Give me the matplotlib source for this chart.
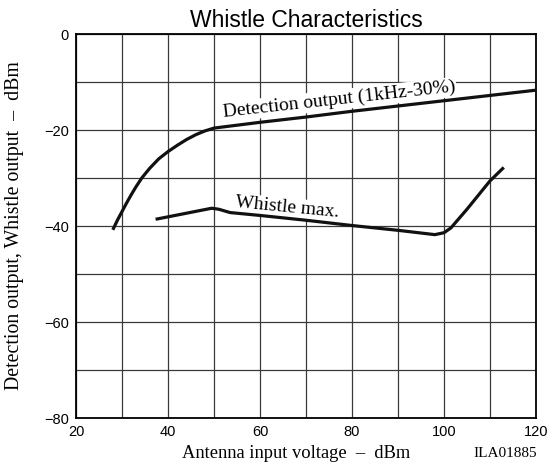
import matplotlib
matplotlib.use("Agg")
import matplotlib.pyplot as plt

# Detection output (1kHz-30%)
det_x = [28, 29, 30, 31, 32, 33, 34.3, 36, 38, 40, 42, 44, 46, 48, 50, 60, 70, 80, 90, 100, 110, 120]
det_y = [-40.8, -38.8, -37.0, -35.2, -33.5, -31.9, -30.0, -28.0, -26.0, -24.5, -23.2, -22.0, -21.0, -20.2, -19.6,
         -18.4, -17.3, -16.1, -15.0, -13.9, -12.8, -11.7]

# Whistle max.
wh_x = [37.3, 49.5, 51, 53.5, 60, 70, 80, 90, 98, 100, 101.5, 105, 110, 113]
wh_y = [-38.6, -36.3, -36.5, -37.2, -37.8, -38.8, -39.9, -40.9, -41.8, -41.4, -40.4, -36.5, -30.6, -27.8]

x_ticks = [20, 40, 60, 80, 100, 120]
y_ticks = [0, -20, -40, -60, -80]

serif = ["Liberation Serif", "DejaVu Serif"]
sans = ["Liberation Sans", "DejaVu Sans"]

fig = plt.figure(figsize=(5.49, 4.69), dpi=100)
ax = fig.add_axes([76/549, 1 - 418/469, 460/549, 384/469])

ax.set_xlim(20, 120)
ax.set_ylim(-80, 0)
ax.set_xticks(range(20, 121, 10))
ax.set_yticks(range(-80, 1, 10))
ax.set_xticklabels([str(v) if v in x_ticks else "" for v in range(20, 121, 10)], family=sans, fontsize=10.5)
ax.set_yticklabels([f"{v}".replace("-", "\u2212") if v in y_ticks else "" for v in range(-80, 1, 10)],
                   family=sans, fontsize=10.5)
ax.tick_params(length=0, pad=5)
ax.grid(True, color="#3a3a3a", linewidth=0.9)
ax.set_axisbelow(True)
for s in ax.spines.values():
    s.set_linewidth(1.3)
    s.set_color("black")

ax.plot(det_x, det_y, color="#111111", linewidth=2.3, solid_capstyle="butt", zorder=3)
ax.plot(wh_x, wh_y, color="#111111", linewidth=2.3, solid_capstyle="butt", zorder=3)

ax.text(52.0, -17.3, "Detection output (1kHz-30%)", family=serif, fontsize=14,
        rotation=6.3, rotation_mode="anchor", ha="left", va="baseline", zorder=2,
        bbox=dict(facecolor="white", edgecolor="none", pad=1.0))
ax.text(54.6, -36.1, "Whistle max.", family=serif, fontsize=14,
        rotation=-5.5, rotation_mode="anchor", ha="left", va="baseline", zorder=2,
        bbox=dict(facecolor="white", edgecolor="none", pad=1.0))

ax.set_title("Whistle Characteristics", family=sans, fontsize=16.5, pad=5)
fig.text(296/549, 1 - 458/469, "Antenna input voltage  \u2013  dBm", family=serif, fontsize=13.3,
         ha="center", va="baseline")
fig.text(537/549, 1 - 457/469, "ILA01885", family=serif, fontsize=11,
         ha="right", va="baseline")
fig.text(15/549, 1 - 226/469, "Detection output, Whistle output  \u2013  dBm", family=serif, fontsize=14.3,
         ha="center", va="center", rotation=90)

fig.savefig("out.png", dpi=100)
